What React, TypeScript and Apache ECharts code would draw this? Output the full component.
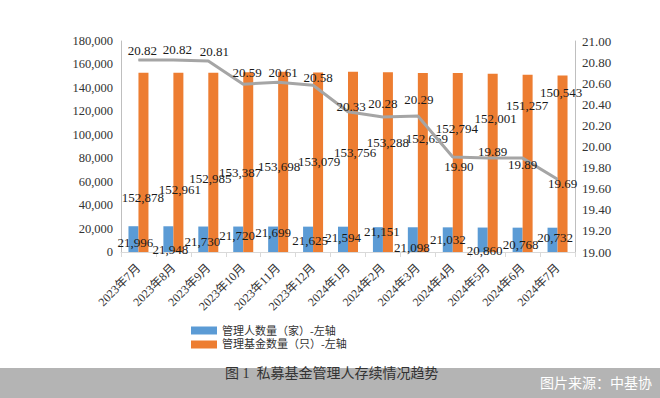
import React, { useEffect, useRef } from "react";
import * as echarts from "echarts";

const categories = [
  "2023年7月", "2023年8月", "2023年9月", "2023年10月", "2023年11月", "2023年12月",
  "2024年1月", "2024年2月", "2024年3月", "2024年4月", "2024年5月", "2024年6月", "2024年7月",
];
const managers = [21996, 21948, 21730, 21720, 21699, 21625, 21594, 21151, 21098, 21032, 20860, 20768, 20732];
const funds = [152878, 152961, 152985, 153387, 153698, 153079, 153756, 153288, 152659, 152794, 152001, 151257, 150543];
const scale = [20.82, 20.82, 20.81, 20.59, 20.61, 20.58, 20.33, 20.28, 20.29, 19.9, 19.89, 19.89, 19.69];

const leftTicks = { min: 0, max: 180000, interval: 20000 };
const rightTicks = { min: 19, max: 21, interval: 0.2 };

// label placement (offsets in px, as in the reference's data labels)
const managerLabelDx = [2, 2, -1, -1, 0, 2, 0, 4, -1, 0, 2, 3, 2.5];
const managerLabelDy = [23, 30, 21, 15, 12, 20, 17, 11, 27, 19, 29, 23, 16];
const fundLabelDx = [-0.5, 1.6, -3, -8, -4, 1, 2, 0, 4, -1, 3, -0.6, -1.5];
const fundLabelDy = [131, 123, 112, 107, 101, 95.5, 87, 77, 72, 62, 51, 37, 23.5];
const scaleLabelDx = [4, 4, 6, 4, 5, 5, 3, 0, 1, 6, 5, 0, 5];
const scaleLabelDy = [-2, -3, -3, -5, -3, -1, 2, -6, -9, 16, 0, 13, 11];

const SERIF = "'Liberation Serif', 'Noto Sans CJK SC', serif";
const fmt = (v: number) => v.toLocaleString("en-US");

export default function App() {
  const ref = useRef<HTMLDivElement>(null);
  useEffect(() => {
    if (!ref.current) return;
    const chart = echarts.init(ref.current, undefined, { renderer: "svg" });
    const labelBase = {
      show: true,
      position: "top",
      distance: 0,
      color: "#1a1a1a",
      fontFamily: SERIF,
      fontSize: 13,
    };
    chart.setOption({
      animation: false,
      backgroundColor: "#ffffff",
      grid: { left: 121, right: 85, top: 41, bottom: 146, containLabel: false },
      legend: {
        data: ["管理人数量（家）-左轴", "管理基金数量（只）-左轴"],
        orient: "vertical",
        left: 191,
        top: 325,
        padding: 0,
        itemWidth: 26,
        itemHeight: 8,
        itemGap: 3,
        icon: "rect",
        textStyle: { fontSize: 11, color: "#333", fontFamily: SERIF },
      },
      xAxis: {
        type: "category",
        data: categories,
        axisLine: { show: true, lineStyle: { color: "#d9d9d9", width: 1 } },
        axisTick: { show: true, length: 5, lineStyle: { color: "#d9d9d9" } },
        axisLabel: {
          rotate: 45,
          margin: 14,
          fontSize: 12,
          color: "#333",
          fontFamily: SERIF,
          interval: 0,
        },
      },
      yAxis: [
        {
          type: "value",
          min: leftTicks.min,
          max: leftTicks.max,
          interval: leftTicks.interval,
          axisLine: { show: true, lineStyle: { color: "#bfbfbf" } },
          axisTick: { show: false },
          splitLine: { show: false },
          axisLabel: {
            margin: 8,
            fontSize: 12.5,
            color: "#333",
            fontFamily: SERIF,
            formatter: (v: number) => fmt(v),
          },
        },
        {
          type: "value",
          min: rightTicks.min,
          max: rightTicks.max,
          interval: rightTicks.interval,
          axisLine: { show: true, lineStyle: { color: "#bfbfbf" } },
          axisTick: { show: false },
          splitLine: { show: false },
          axisLabel: {
            margin: 7,
            fontSize: 13,
            color: "#333",
            fontFamily: SERIF,
            formatter: (v: number) => v.toFixed(2),
          },
        },
      ],
      series: [
        {
          name: "管理人数量（家）-左轴",
          type: "bar",
          barWidth: 10,
          barGap: "0%",
          itemStyle: { color: "#5b9bd5" },
          data: managers.map((v, i) => ({
            value: v,
            label: { ...labelBase, offset: [managerLabelDx[i], managerLabelDy[i]], formatter: () => fmt(v) },
          })),
          z: 2,
        },
        {
          name: "管理基金数量（只）-左轴",
          type: "bar",
          barWidth: 10,
          barGap: "0%",
          itemStyle: { color: "#ed7d31" },
          data: funds.map((v, i) => ({
            value: v,
            label: { ...labelBase, offset: [fundLabelDx[i], fundLabelDy[i]], formatter: () => fmt(v) },
          })),
          z: 2,
        },
        {
          name: "存续规模（万亿元）-右轴",
          type: "line",
          yAxisIndex: 1,
          symbol: "circle",
          symbolSize: 1,
          itemStyle: { color: "#a5a5a5" },
          lineStyle: { color: "#a5a5a5", width: 3 },
          data: scale.map((v, i) => ({
            value: v,
            label: { ...labelBase, offset: [scaleLabelDx[i], scaleLabelDy[i]], formatter: () => v.toFixed(2) },
          })),
          z: 3,
        },
      ],
      graphic: [
        {
          type: "rect",
          left: 0,
          top: 368,
          shape: { width: 660, height: 30 },
          style: { fill: "#b4b4b4" },
          z: 0,
        },
        {
          type: "text",
          left: 225,
          top: 366,
          style: {
            text: "图 1  私募基金管理人存续情况趋势",
            fontSize: 14,
            fill: "#333",
            fontFamily: SERIF,
          },
          z: 10,
        },
        {
          type: "text",
          left: 540,
          top: 375,
          style: {
            text: "图片来源：中基协",
            fontSize: 14,
            fill: "#ffffff",
            fontFamily: "'Noto Sans CJK SC', sans-serif",
          },
          z: 10,
        },
      ],
    });
    return () => chart.dispose();
  }, []);
  return (
    <div
      ref={ref}
      style={{ position: "absolute", left: 0, top: 0, width: 660, height: 398 }}
    />
  );
}
